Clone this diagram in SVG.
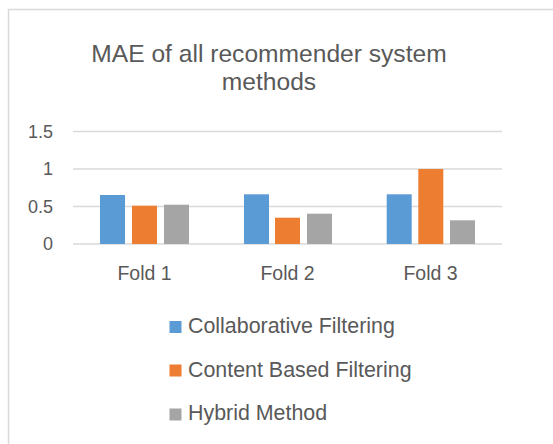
<svg xmlns="http://www.w3.org/2000/svg" width="553" height="444" viewBox="0 0 553 444">
<style>
text{font-family:"Liberation Sans",Arial,sans-serif;fill:#595959}
.grid{stroke:#D9D9D9;stroke-width:1.5}
.cf{fill:#5B9BD5}
.cb{fill:#ED7D31}
.hm{fill:#A5A5A5}
.ax{font-size:18px;text-anchor:end}
.cat{font-size:19.5px;text-anchor:middle}
.leg{font-size:21.4px}
</style>
<rect x="8.5" y="9.5" width="560" height="450" fill="#FFFFFF" stroke="#D9D9D9" stroke-width="1.5"/>
<g id="title">
<text x="269" y="62" font-size="24.6" text-anchor="middle">MAE of all recommender system</text>
<text x="269" y="90" font-size="24.6" text-anchor="middle">methods</text>
</g>
<g id="gridlines">
<line class="grid" x1="73" y1="131.5" x2="502" y2="131.5"/>
<line class="grid" x1="73" y1="169" x2="502" y2="169"/>
<line class="grid" x1="73" y1="206.5" x2="502" y2="206.5"/>
<line class="grid" x1="73" y1="244" x2="502" y2="244"/>
</g>
<g id="yaxis">
<text class="ax" x="53" y="137.5">1.5</text>
<text class="ax" x="53" y="175">1</text>
<text class="ax" x="53" y="212.5">0.5</text>
<text class="ax" x="53" y="250">0</text>
</g>
<g id="fold1">
<rect class="cf" x="100" y="195" width="25" height="49"/>
<rect class="cb" x="132" y="205.7" width="25" height="38.3"/>
<rect class="hm" x="164" y="204.7" width="25" height="39.3"/>
<text class="cat" x="144.5" y="280">Fold 1</text>
</g>
<g id="fold2">
<rect class="cf" x="244" y="194.3" width="25" height="49.7"/>
<rect class="cb" x="275" y="217.7" width="25" height="26.3"/>
<rect class="hm" x="307" y="213.7" width="25" height="30.3"/>
<text class="cat" x="287.5" y="280">Fold 2</text>
</g>
<g id="fold3">
<rect class="cf" x="386.7" y="194.3" width="25" height="49.7"/>
<rect class="cb" x="418.3" y="169" width="25" height="75"/>
<rect class="hm" x="450" y="220.3" width="25" height="23.7"/>
<text class="cat" x="430.5" y="280">Fold 3</text>
</g>
<g id="legend">
<rect class="cf" x="169.5" y="321" width="12" height="12"/>
<text class="leg" x="188" y="333">Collaborative Filtering</text>
<rect class="cb" x="169.5" y="364.5" width="12" height="12"/>
<text class="leg" x="188" y="377">Content Based Filtering</text>
<rect class="hm" x="169.5" y="408.5" width="12" height="12"/>
<text class="leg" x="188" y="420">Hybrid Method</text>
</g>
</svg>
